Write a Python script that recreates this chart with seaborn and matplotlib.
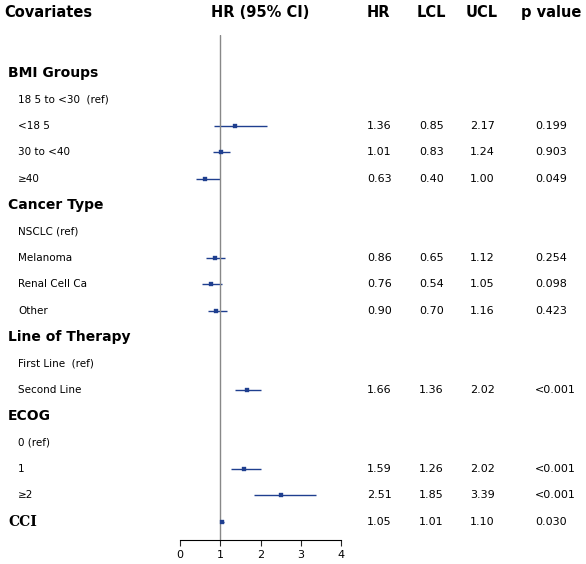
import seaborn as sns
import matplotlib.pyplot as plt
import matplotlib.transforms as mtransforms
import numpy as np
import pandas as pd

sns.set_style("white")
plt.rcParams['font.family'] = ['DejaVu Sans']
plt.rcParams['text.color'] = 'black'

labels = ["BMI Groups", "18 5 to <30  (ref)", "<18 5", "30 to <40", "\u226540",
          "Cancer Type", "NSCLC (ref)", "Melanoma", "Renal Cell Ca", "Other",
          "Line of Therapy", "First Line  (ref)", "Second Line",
          "ECOG", "0 (ref)", "1", "\u22652", "CCI"]
is_header = [True, False, False, False, False, True, False, False, False, False,
             True, False, False, True, False, False, False, False]
hr = [None, None, 1.36, 1.01, 0.63, None, None, 0.86, 0.76, 0.90,
      None, None, 1.66, None, None, 1.59, 2.51, 1.05]
lcl = [None, None, 0.85, 0.83, 0.40, None, None, 0.65, 0.54, 0.70,
       None, None, 1.36, None, None, 1.26, 1.85, 1.01]
ucl = [None, None, 2.17, 1.24, 1.00, None, None, 1.12, 1.05, 1.16,
       None, None, 2.02, None, None, 2.02, 3.39, 1.10]
pval = [None, None, "0.199", "0.903", "0.049", None, None, "0.254", "0.098", "0.423",
        None, None, "<0.001", None, None, "<0.001", "<0.001", "0.030"]

W, H = 586, 564
fig = plt.figure(figsize=(W / 100, H / 100), dpi=100)
ax = fig.add_axes([165 / W, 1 - 540 / H, 190 / W, 505 / H])

df = pd.DataFrame({"row": np.arange(len(labels)), "hr": hr, "lcl": lcl, "ucl": ucl})
est = df.dropna(subset=["hr"])
navy = "#1f3f8f"
ax.hlines(est["row"], est["lcl"], est["ucl"], color=navy, lw=1)
sns.scatterplot(data=est, x="hr", y="row", marker="s", s=10, color=navy,
                edgecolor=navy, ax=ax, zorder=3)
ax.axvline(1, color="#888888", lw=1)

ax.set_xlim((165 - 180) / 40.25, (355 - 180) / 40.25)
ax.set_ylim((540 - 73) / 26.4, (35 - 73) / 26.4)
ax.set_xticks([0, 1, 2, 3, 4])
ax.set_yticks([])
ax.set_xlabel("")
ax.set_ylabel("")
for s in ["top", "right", "left"]:
    ax.spines[s].set_visible(False)
ax.spines["bottom"].set_bounds(0, 4)
ax.spines["bottom"].set_color("black")
ax.tick_params(axis="x", length=4, labelsize=8, bottom=True, labelcolor="black")

tr = mtransforms.blended_transform_factory(fig.transFigure, ax.transData)
hy = (12 - 73) / 26.4
hdr = dict(fontsize=10.5, fontweight="bold", va="center", transform=tr, clip_on=False)
fig_x = lambda px: px / W
ax.text(fig_x(4), hy, "Covariates", ha="left", **hdr)
ax.text(fig_x(260), hy, "HR (95% CI)", ha="center", **hdr)
ax.text(fig_x(378), hy, "HR", ha="center", **hdr)
ax.text(fig_x(431), hy, "LCL", ha="center", **hdr)
ax.text(fig_x(482), hy, "UCL", ha="center", **hdr)
ax.text(fig_x(551), hy, "p value", ha="center", **hdr)

for i, lab in enumerate(labels):
    if lab == "CCI":
        ax.text(fig_x(8), i, lab, ha="left", va="center", fontsize=10,
                fontweight="bold", family="DejaVu Serif", transform=tr)
    elif is_header[i]:
        ax.text(fig_x(8), i, lab, ha="left", va="center", fontsize=10,
                fontweight="bold", transform=tr)
    else:
        ax.text(fig_x(18), i, lab, ha="left", va="center", fontsize=7.5, transform=tr)
    if hr[i] is not None:
        kw = dict(ha="left", va="center", fontsize=8, transform=tr)
        ax.text(fig_x(367), i, f"{hr[i]:.2f}", **kw)
        ax.text(fig_x(419), i, f"{lcl[i]:.2f}", **kw)
        ax.text(fig_x(470), i, f"{ucl[i]:.2f}", **kw)
        ax.text(fig_x(535), i, pval[i], **kw)

fig.savefig("out.png", dpi=100)
